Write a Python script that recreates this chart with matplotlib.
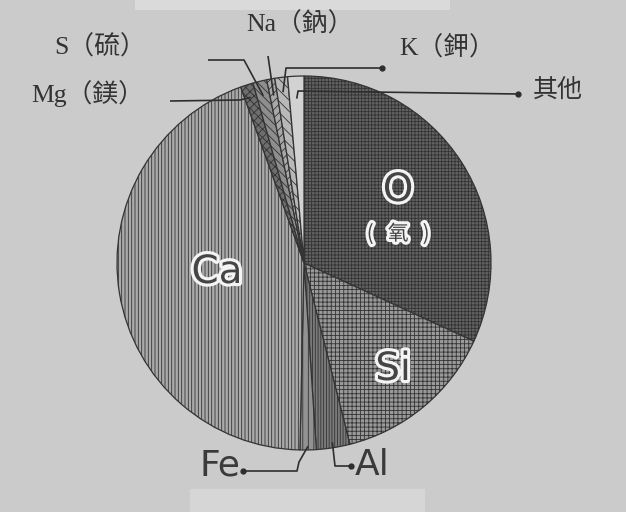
import numpy as np
import matplotlib
matplotlib.use("Agg")
import matplotlib.pyplot as plt
import matplotlib.patheffects as pe
from matplotlib.patches import Rectangle

# ---- data (percent by mass) ----
elements = ["O", "Si", "Al", "Fe", "Ca", "Mg", "S", "Na", "K", "其他"]
values = [31.9, 14.2, 2.9, 1.4, 44.2, 1.1, 1.2, 0.7, 1.1, 1.4]

faces = ["#636363", "#999999", "#7a7a7a", "#929292", "#aaaaaa",
         "#6e6e6e", "#8e8e8e", "#a8a8a8", "#b8b8b8", "#d2d2d2"]
hatches = ["+++++", "++++", "||||||", "|||", "|||||",
           "xxxx", "\\\\\\\\", "////", "\\\\\\", None]

plt.rcParams["font.family"] = ["Liberation Serif", "Noto Sans CJK TC", "DejaVu Sans"]
plt.rcParams["hatch.linewidth"] = 0.6

W, H = 626, 512
fig = plt.figure(figsize=(W / 100, H / 100), dpi=100)
fig.patch.set_facecolor("#cbcbcb")
ax = fig.add_axes([0, 0, 1, 1])

def Y(ypx):
    return H - ypx

cx, cy, R = 304, Y(263), 187
wedges, _ = ax.pie(values, startangle=90, counterclock=False,
                   center=(cx, cy), radius=R, frame=True,
                   wedgeprops=dict(linewidth=0.9, edgecolor="#333333"))
ax.set_xlim(0, W)
ax.set_ylim(0, H)
ax.set_aspect("equal")
ax.axis("off")
for w, f, h in zip(wedges, faces, hatches):
    w.set_facecolor(f)
    if h:
        w.set_hatch(h)
    w.set_edgecolor("#333333")
    w.set_zorder(2)

# scan-light bands
ax.add_patch(Rectangle((135, Y(10)), 315, 10, facecolor="#dadada", edgecolor="none", zorder=0))
ax.add_patch(Rectangle((190, Y(512)), 235, 23, facecolor="#d6d6d6", edgecolor="none", zorder=0))

def wedge_point(i, frac=0.93):
    w = wedges[i]
    a = np.deg2rad((w.theta1 + w.theta2) / 2)
    return cx + R * frac * np.cos(a), H - (cy + R * frac * np.sin(a))

halo = [pe.withStroke(linewidth=4.5, foreground="#f4f4f4")]
big = dict(family="DejaVu Sans", color="#454545", ha="center", va="center",
           path_effects=halo, zorder=5)
ax.text(398, Y(190), "O", fontsize=28, **big)
ax.text(398, Y(234), "(   氧   )", fontsize=15,
        **{**big, "family": ["Noto Sans CJK TC", "DejaVu Sans"]})
ax.text(217, Y(272), "Ca", fontsize=28, **big)
ax.text(393, Y(369), "Si", fontsize=28, **big)

lc = "#2e2e2e"
lw = 1.2
def leader(pts, dot=None):
    xs = [p[0] for p in pts]
    ys = [Y(p[1]) for p in pts]
    ax.plot(xs, ys, color=lc, lw=lw, zorder=6, solid_capstyle="butt")
    if dot is not None:
        ax.plot([dot[0]], [Y(dot[1])], "o", color=lc, ms=3.5, zorder=6)

# bottom labels
sans = dict(family="DejaVu Sans", color="#3a3a3a", va="center", fontsize=26)
ax.text(240, Y(466), "Fe", ha="right", **sans)
ax.text(355, Y(465), "Al", ha="left", **sans)
leader([(243, 471), (297, 471), (299, 462), wedge_point(3, 0.98)], dot=(243, 471))
leader([(351, 466), (335, 466), wedge_point(2, 0.97)], dot=(351, 466))

# top labels
serif = dict(color="#333333", va="center", fontsize=18.5)
ax.text(300, Y(24), "Na（鈉）", ha="center", **serif)
ax.text(100, Y(47), "S（硫）", ha="center", **serif)
ax.text(88, Y(94), "Mg（鎂）", ha="center", **serif)
ax.text(447, Y(47), "K（鉀）", ha="center", **serif)
ax.text(558, Y(90), "其他", ha="center", color="#333333", va="center", fontsize=18,
        family=["Noto Sans CJK TC", "DejaVu Sans"])

leader([(170, 101), (240, 100), wedge_point(5, 0.93)])
leader([(208, 60), (244, 60), wedge_point(6, 0.92)])
leader([(268, 56), wedge_point(7, 0.91)])
leader([(382, 68), (286, 68), wedge_point(8, 0.92)], dot=(382, 68))
leader([(518, 94), (298, 91), wedge_point(9, 0.88)], dot=(518, 94))

fig.savefig("out.png", dpi=100, facecolor=fig.get_facecolor())
